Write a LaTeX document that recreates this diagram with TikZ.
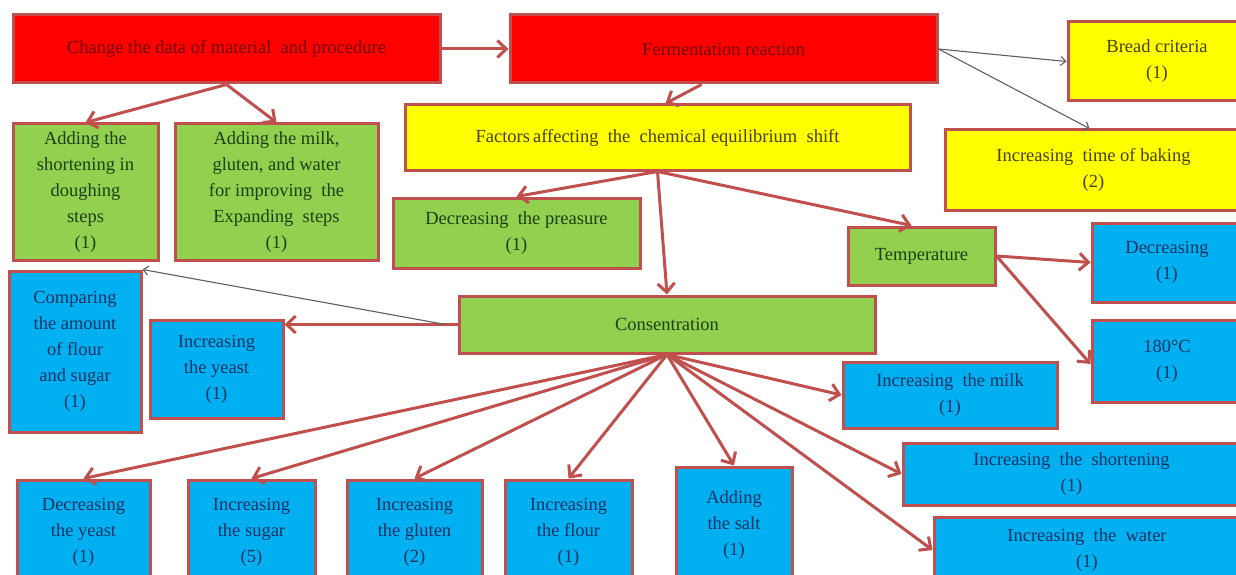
\documentclass[tikz,border=0pt]{standalone}
\usepackage{fontspec}
\setmainfont{Liberation Serif}
\usetikzlibrary{arrows.meta}

\definecolor{edgered}{HTML}{C0504D}
\definecolor{fillred}{HTML}{FF0000}
\definecolor{fillyellow}{HTML}{FFFF00}
\definecolor{fillgreen}{HTML}{92D050}
\definecolor{fillblue}{HTML}{00B0F0}
\definecolor{txtred}{HTML}{6E0A05}
\definecolor{txtyellow}{HTML}{47400A}
\definecolor{txtgreen}{HTML}{1C4012}
\definecolor{txtblue}{HTML}{173266}
\definecolor{thingray}{HTML}{5E5E66}

\begin{document}
\begin{tikzpicture}[x=1pt, y=-1pt, >={Straight Barb[length=9pt,width=17pt]},
  box/.style={draw=edgered, line width=3pt, align=center, inner sep=2pt,
    font=\fontsize{18.5}{26}\selectfont},
  redbox/.style={box, fill=fillred, text=txtred},
  yellowbox/.style={box, fill=fillyellow, text=txtyellow},
  greenbox/.style={box, fill=fillgreen, text=txtgreen},
  bluebox/.style={box, fill=fillblue, text=txtblue},
  link/.style={->, draw=edgered, line width=3pt},
  thinlink/.style={-{Straight Barb[length=5pt,width=9pt]}, draw=thingray, line width=1.1pt}]
  % 1. 画布与裁剪
  \clip (0,0) rectangle (1236,575);
  \fill[white] (0,0) rectangle (1236,575);

  % 2. 顶部红色框与黄色框
  \node[redbox, minimum width=427pt, minimum height=68pt] (change) at (226.5,49) {Change the data of material \ and procedure};
  \node[redbox, minimum width=427pt, minimum height=68pt] (ferm) at (723.5,49) {Fermentation reaction};
  \node[yellowbox, minimum width=178pt, minimum height=79pt] (bread) at (1157,61.5) {Bread criteria\\(1)};
  \node[yellowbox, minimum width=505pt, minimum height=65pt] (factors) at (657.5,137.5) {Factors\,affecting \ the \ chemical equilibrium \ shift};
  \node[yellowbox, minimum width=297pt, minimum height=80pt] (baking) at (1093.5,170) {Increasing \ time of baking\\(2)};

  % 3. 绿色框
  \node[greenbox, minimum width=145pt, minimum height=136pt] (shortstep) at (85.5,192) {Adding the\\shortening in\\doughing\\steps\\(1)};
  \node[greenbox, minimum width=203pt, minimum height=136pt] (milkstep) at (276.5,192) {Adding the milk,\\gluten, and water\\for improving \ the\\Expanding \ steps\\(1)};
  \node[greenbox, minimum width=247pt, minimum height=70pt] (press) at (516.5,233) {Decreasing \ the preasure\\(1)};
  \node[greenbox, minimum width=147pt, minimum height=58pt] (temp) at (921.5,256) {Temperature};
  \node[greenbox, minimum width=416pt, minimum height=57pt] (cons) at (667,324.5) {Consentration};

  % 4. 蓝色框 (右侧与左侧)
  \node[bluebox, minimum width=150pt, minimum height=79pt] (decr) at (1167,262.5) {Decreasing\\(1)};
  \node[bluebox, minimum width=150pt, minimum height=82pt] (deg) at (1167,361) {180°C\\(1)};
  \node[bluebox, minimum width=132pt, minimum height=161pt] (comp) at (75,351.5) {Comparing\\the amount\\of flour\\and sugar\\(1)};
  \node[bluebox, minimum width=133pt, minimum height=98pt] (upyeast) at (216.5,369) {Increasing\\the yeast\\(1)};
  \node[bluebox, minimum width=214pt, minimum height=66pt] (upmilk) at (950,395) {Increasing \ the milk\\(1)};
  \node[bluebox, minimum width=337pt, minimum height=62pt] (upshort) at (1071.5,474) {Increasing \ the \ shortening\\(1)};
  \node[bluebox, minimum width=306pt, minimum height=66pt] (upwater) at (1087,550) {Increasing \ the \ water\\(1)};

  % 5. 底部一排蓝色框
  \node[bluebox, minimum width=133pt, minimum height=104pt] (downyeast) at (83.5,532) {Decreasing\\the yeast\\(1)};
  \node[bluebox, minimum width=127pt, minimum height=104pt] (upsugar) at (251.5,532) {Increasing\\the sugar\\(5)};
  \node[bluebox, minimum width=135pt, minimum height=104pt] (upgluten) at (414.5,532) {Increasing\\the gluten\\(2)};
  \node[bluebox, minimum width=127pt, minimum height=104pt] (upflour) at (568.5,532) {Increasing\\the flour\\(1)};
  \node[bluebox, minimum width=116pt, minimum height=117pt] (salt) at (734,525.5) {Adding\\the salt\\(1)};

  % 6. 箭头
  \draw[link] (change) -- (ferm);
  \draw[link] (change.south) -- (shortstep.north);
  \draw[link] (change.south) -- (milkstep.north);
  \draw[link] ([xshift=-22pt]ferm.south) -- ([xshift=8pt]factors.north);
  \draw[thinlink] (ferm.east) -- (bread.west);
  \draw[thinlink] (ferm.east) -- ([xshift=-4pt]baking.north);

  \draw[link] (factors.south) -- (press.north);
  \draw[link] (factors.south) -- (cons.north);
  \draw[link] (factors.south) -- ([xshift=-10pt]temp.north);
  \draw[link] (temp.east) -- (decr.west);
  \draw[link] (temp.east) -- ([yshift=-3pt]deg.west);

  \draw[link] (cons.west) -- (cons.west -| upyeast.east);
  \draw[thinlink] ([xshift=-12pt]cons.west) -- (comp.north east);
  \foreach \leaf in {downyeast, upsugar, upgluten, upflour, salt}
    \draw[link] (cons.south) -- (\leaf.north);
  \foreach \leaf in {upmilk, upshort, upwater}
    \draw[link] (cons.south) -- (\leaf.west);
\end{tikzpicture}
\end{document}
